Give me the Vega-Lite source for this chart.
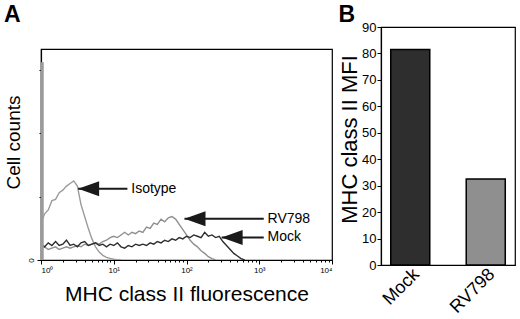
{
  "$schema": "https://vega.github.io/schema/vega-lite/v6.json",
  "padding": {"left": 3, "top": 3, "right": 2, "bottom": 0},
  "spacing": 3,
  "config": {
    "font": "Liberation Sans",
    "view": {"stroke": "black", "strokeWidth": 1.2},
    "axis": {"domainColor": "black", "tickColor": "black", "labelColor": "black", "titleColor": "black", "grid": false, "titleFontWeight": "normal", "domainWidth": 1.2}
  },
  "datasets": {
    "hist": [
      {"s":"Isotype","f":1,"c":28},{"s":"Isotype","f":1.122,"c":35},{"s":"Isotype","f":1.259,"c":38},{"s":"Isotype","f":1.413,"c":45},{"s":"Isotype","f":1.585,"c":46},{"s":"Isotype","f":1.778,"c":51},{"s":"Isotype","f":1.995,"c":53},{"s":"Isotype","f":2.239,"c":56},{"s":"Isotype","f":2.512,"c":58},{"s":"Isotype","f":2.818,"c":60},{"s":"Isotype","f":3.162,"c":56},{"s":"Isotype","f":3.548,"c":42},{"s":"Isotype","f":3.981,"c":33},{"s":"Isotype","f":4.467,"c":24},{"s":"Isotype","f":5.012,"c":16},{"s":"Isotype","f":5.623,"c":10},{"s":"Isotype","f":6.31,"c":6},{"s":"Isotype","f":7.079,"c":3.5},{"s":"Isotype","f":7.943,"c":2},{"s":"Isotype","f":8.913,"c":1.2},{"s":"Isotype","f":10,"c":0.6},{"s":"Isotype","f":11.22,"c":0.3},{"s":"Isotype","f":12.59,"c":0},
      {"s":"RV798","f":1,"c":8},{"s":"RV798","f":1.122,"c":10},{"s":"RV798","f":1.259,"c":8},{"s":"RV798","f":1.413,"c":9},{"s":"RV798","f":1.585,"c":10},{"s":"RV798","f":1.778,"c":8},{"s":"RV798","f":1.995,"c":9},{"s":"RV798","f":2.239,"c":10},{"s":"RV798","f":2.512,"c":9},{"s":"RV798","f":2.818,"c":10},{"s":"RV798","f":3.162,"c":11},{"s":"RV798","f":3.548,"c":10},{"s":"RV798","f":3.981,"c":12},{"s":"RV798","f":4.467,"c":11},{"s":"RV798","f":5.012,"c":12},{"s":"RV798","f":5.623,"c":13},{"s":"RV798","f":6.31,"c":12},{"s":"RV798","f":7.079,"c":14},{"s":"RV798","f":7.943,"c":15},{"s":"RV798","f":8.913,"c":17},{"s":"RV798","f":10,"c":18},{"s":"RV798","f":11.22,"c":17},{"s":"RV798","f":12.59,"c":19},{"s":"RV798","f":14.13,"c":21},{"s":"RV798","f":15.85,"c":19},{"s":"RV798","f":17.78,"c":21},{"s":"RV798","f":19.95,"c":20},{"s":"RV798","f":22.39,"c":22},{"s":"RV798","f":25.12,"c":21},{"s":"RV798","f":28.18,"c":25},{"s":"RV798","f":31.62,"c":24},{"s":"RV798","f":35.48,"c":28},{"s":"RV798","f":39.81,"c":27},{"s":"RV798","f":44.67,"c":31},{"s":"RV798","f":50.12,"c":29},{"s":"RV798","f":56.23,"c":32},{"s":"RV798","f":63.1,"c":33},{"s":"RV798","f":70.79,"c":31},{"s":"RV798","f":79.43,"c":27},{"s":"RV798","f":89.13,"c":23},{"s":"RV798","f":100,"c":19},{"s":"RV798","f":112.2,"c":15},{"s":"RV798","f":125.9,"c":12},{"s":"RV798","f":141.3,"c":10},{"s":"RV798","f":158.5,"c":7},{"s":"RV798","f":177.8,"c":5},{"s":"RV798","f":199.5,"c":2.5},{"s":"RV798","f":223.9,"c":1},{"s":"RV798","f":251.2,"c":0},
      {"s":"Mock","f":1,"c":12},{"s":"Mock","f":1.122,"c":10},{"s":"Mock","f":1.259,"c":13},{"s":"Mock","f":1.413,"c":11},{"s":"Mock","f":1.585,"c":14},{"s":"Mock","f":1.778,"c":11},{"s":"Mock","f":1.995,"c":12},{"s":"Mock","f":2.239,"c":15},{"s":"Mock","f":2.512,"c":11},{"s":"Mock","f":2.818,"c":12},{"s":"Mock","f":3.162,"c":10},{"s":"Mock","f":3.548,"c":13},{"s":"Mock","f":3.981,"c":14},{"s":"Mock","f":4.467,"c":11},{"s":"Mock","f":5.012,"c":12},{"s":"Mock","f":5.623,"c":13},{"s":"Mock","f":6.31,"c":11},{"s":"Mock","f":7.079,"c":12},{"s":"Mock","f":7.943,"c":10},{"s":"Mock","f":8.913,"c":12},{"s":"Mock","f":10,"c":11},{"s":"Mock","f":11.22,"c":13},{"s":"Mock","f":12.59,"c":10},{"s":"Mock","f":14.13,"c":9},{"s":"Mock","f":15.85,"c":11},{"s":"Mock","f":17.78,"c":10},{"s":"Mock","f":19.95,"c":12},{"s":"Mock","f":22.39,"c":11},{"s":"Mock","f":25.12,"c":12},{"s":"Mock","f":28.18,"c":11},{"s":"Mock","f":31.62,"c":13},{"s":"Mock","f":35.48,"c":12},{"s":"Mock","f":39.81,"c":14},{"s":"Mock","f":44.67,"c":13},{"s":"Mock","f":50.12,"c":15},{"s":"Mock","f":56.23,"c":14},{"s":"Mock","f":63.1,"c":16},{"s":"Mock","f":70.79,"c":15},{"s":"Mock","f":79.43,"c":17},{"s":"Mock","f":89.13,"c":16},{"s":"Mock","f":100,"c":18},{"s":"Mock","f":112.2,"c":17},{"s":"Mock","f":125.9,"c":19},{"s":"Mock","f":141.3,"c":18},{"s":"Mock","f":158.5,"c":17},{"s":"Mock","f":177.8,"c":21},{"s":"Mock","f":199.5,"c":18},{"s":"Mock","f":223.9,"c":19},{"s":"Mock","f":251.2,"c":17},{"s":"Mock","f":281.8,"c":18},{"s":"Mock","f":316.2,"c":14},{"s":"Mock","f":354.8,"c":11},{"s":"Mock","f":398.1,"c":8},{"s":"Mock","f":446.7,"c":5},{"s":"Mock","f":501.2,"c":3},{"s":"Mock","f":562.3,"c":1},{"s":"Mock","f":631,"c":0}
    ],
    "ann": [
      {"s":"Isotype","f":3.24,"c":54,"f2":15.4,"ft":17.4},
      {"s":"RV798","f":93.8,"c":31.3,"f2":1153,"ft":1300},
      {"s":"Mock","f":304,"c":17.1,"f2":1153,"ft":1300}
    ]
  },
  "hconcat": [
    {
      "spacing": 9,
      "vconcat": [
        {
          "title": {"text": "A", "anchor": "start", "frame": "bounds", "fontSize": 23, "fontWeight": "bold", "offset": 0, "dx": -37},
          "width": 291,
          "height": 12,
          "view": {"stroke": null},
          "data": {"values": [{"t": ""}]},
          "mark": {"type": "text"},
          "encoding": {"text": {"field": "t"}}
        },
        {
          "width": 291,
          "height": 211,
          "layer": [
            {
              "data": {"name": "hist"},
              "mark": {"type": "line", "strokeWidth": 1.4, "clip": true},
              "encoding": {
                "x": {"field": "f", "type": "quantitative",
                  "scale": {"type": "log", "domain": [1, 10000]},
                  "axis": {"title": "MHC class II fluorescence", "titleFontSize": 21, "titlePadding": 9,
                    "values": [1,2,3,4,5,6,7,8,9,10,20,30,40,50,60,70,80,90,100,200,300,400,500,600,700,800,900,1000,2000,3000,4000,5000,6000,7000,8000,9000,10000],
                    "labelExpr": "datum.value==1?'10⁰':datum.value==10?'10¹':datum.value==100?'10²':datum.value==1000?'10³':datum.value==10000?'10⁴':''",
                    "labelOverlap": false, "labelFontSize": 8, "labelPadding": 2,
                    "tickSize": {"condition": {"test": "indexof([1,10,100,1000,10000], datum.value) >= 0", "value": 4}, "value": 2}}},
                "y": {"field": "c", "type": "quantitative",
                  "scale": {"domain": [0, 150]},
                  "axis": {"title": "Cell counts", "titleFontSize": 19, "titlePadding": 4, "titleY": 93,
                    "values": [0,6,12,18,24,30,36,42,48,54,60,66,72,78,84,90,96,102,108,114,120,126,132,138,144,150],
                    "labelExpr": "datum.value % 30 == 0 ? datum.label : ''",
                    "labelOverlap": false, "labelFontSize": 8, "labelAngle": 270, "labelAlign": "center", "labelBaseline": "bottom", "labelPadding": 2,
                    "tickSize": {"condition": {"test": "datum.value % 30 == 0", "value": 4}, "value": 2}}},
                "color": {"field": "s", "type": "nominal",
                  "scale": {"domain": ["Isotype", "RV798", "Mock"], "range": ["#9b9b9b", "#8f8f8f", "#2e2e2e"]},
                  "legend": null}
              }
            },
            {
              "data": {"values": [{"f": 1.04, "c": 150}]},
              "mark": {"type": "rule", "color": "#9b9b9b", "strokeWidth": 3},
              "encoding": {
                "x": {"field": "f", "type": "quantitative"},
                "y": {"field": "c", "type": "quantitative"},
                "y2": {"datum": 0}
              }
            },
            {
              "data": {"name": "ann"},
              "mark": {"type": "rule", "color": "#1a1a1a", "strokeWidth": 2},
              "encoding": {
                "x": {"field": "f", "type": "quantitative"},
                "x2": {"field": "f2"},
                "y": {"field": "c", "type": "quantitative"}
              }
            },
            {
              "data": {"name": "ann"},
              "mark": {"type": "point", "shape": "M0,0L2,-0.72L2,0.72Z", "size": 441, "filled": true, "opacity": 1, "color": "#1a1a1a", "strokeWidth": 0},
              "encoding": {
                "x": {"field": "f", "type": "quantitative"},
                "y": {"field": "c", "type": "quantitative"}
              }
            },
            {
              "data": {"name": "ann"},
              "mark": {"type": "text", "align": "left", "baseline": "middle", "fontSize": 14, "color": "black"},
              "encoding": {
                "x": {"field": "ft", "type": "quantitative"},
                "y": {"field": "c", "type": "quantitative"},
                "text": {"field": "s"}
              }
            }
          ]
        }
      ]
    },
    {
      "title": {"text": "B", "anchor": "start", "frame": "bounds", "fontSize": 23, "fontWeight": "bold", "offset": -6},
      "width": 134,
      "height": 238,
      "data": {"values": [{"g": "Mock", "v": 81.5}, {"g": "RV798", "v": 32.5}]},
      "mark": {"type": "bar", "stroke": "black", "strokeWidth": 1.5},
      "encoding": {
        "x": {"field": "g", "type": "nominal",
          "scale": {"paddingInner": 0.483, "paddingOuter": 0.129},
          "axis": {"title": null, "labelAngle": -45, "labelFontSize": 18, "ticks": false, "labelPadding": 0}},
        "y": {"field": "v", "type": "quantitative",
          "scale": {"domain": [0, 90]},
          "axis": {"title": "MHC class II MFI", "titleFontSize": 22, "titlePadding": 0, "titleY": 112,
            "values": [0,10,20,30,40,50,60,70,80,90], "labelFontSize": 13, "tickSize": 4, "labelPadding": 1}},
        "color": {"field": "g", "type": "nominal", "scale": {"range": ["#141414", "#8a8a8a"]}, "legend": null}
      }
    }
  ]
}
